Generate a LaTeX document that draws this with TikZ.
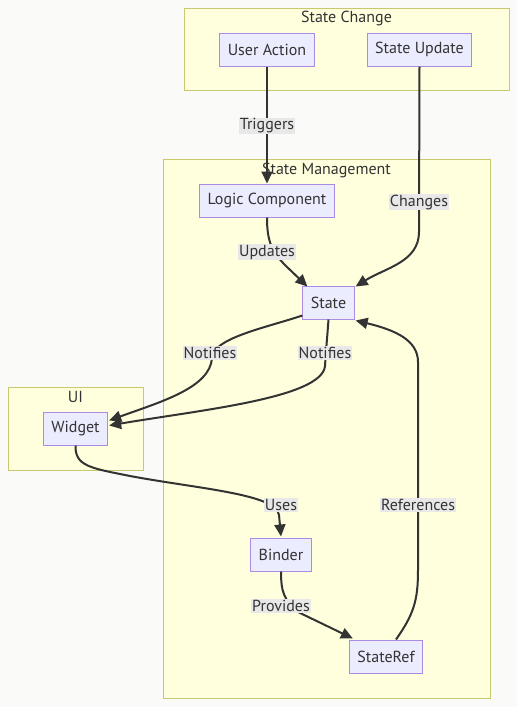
\documentclass[tikz,border=0pt]{standalone}
\usepackage{fontspec}
\setmainfont{PT Sans}
\usetikzlibrary{arrows.meta,calc}
\definecolor{canvas}{RGB}{250,250,248}
\definecolor{grpfill}{RGB}{255,255,222}
\definecolor{grpline}{RGB}{200,200,110}
\definecolor{boxfill}{RGB}{236,236,255}
\definecolor{boxline}{RGB}{170,140,230}
\definecolor{txt}{RGB}{51,51,51}
\definecolor{lblfill}{RGB}{232,232,232}
\tikzset{
  grp/.style={draw=grpline,fill=grpfill,line width=1pt},
  grptitle/.style={text=txt,font=\fontsize{16}{19}\selectfont,inner sep=0pt},
  box/.style={draw=boxline,fill=boxfill,line width=1pt,text=txt,font=\fontsize{16}{19}\selectfont,inner xsep=8pt,inner ysep=0pt,minimum height=33pt},
  elabel/.style={fill=lblfill,text=txt,font=\fontsize{16}{19}\selectfont,inner xsep=1pt,inner ysep=1pt},
  flow/.style={-{Triangle[length=12pt,width=11pt]},draw=txt,line width=2pt},
}
\begin{document}
\begin{tikzpicture}[x=1pt,y=-1pt]
\fill[canvas] (0,0) rectangle (517,707);
\useasboundingbox (0,0) rectangle (517,707);
% groups
\node[grp,minimum width=325pt,minimum height=82pt] (gchange) at (346.5,49) {};
\node[grptitle] (tchange) at (346.5,18) {State Change};
\node[grp,minimum width=327pt,minimum height=539pt] (gmgmt) at (326.5,428.5) {};
\node[grptitle] (tmgmt) at (326.5,170) {State Management};
\node[grp,minimum width=135pt,minimum height=83pt] (gui) at (75.5,428.5) {};
\node[grptitle] (tui) at (75.5,397) {UI};
% nodes
\node[box] (act) at (267,49.5) {User Action};
\node[box] (upd) at (419.5,49.5) {State Update};
\node[box] (logic) at (267,200.5) {Logic Component};
\node[box] (state) at (328.5,302.5) {State};
\node[box] (widget) at (75.5,428.5) {Widget};
\node[box] (binder) at (281,554.5) {Binder};
\node[box] (sref) at (386,656.5) {StateRef};
% edges
\draw[flow] (act) -- (logic);
\draw[flow] (upd.south) -- (419,232) .. controls (419,262) and (385,268) .. ($(state.north east)+(1,1)$);
\draw[flow] (logic.south) .. controls (267,242) and (272,252) .. (286,266) -- ($(state.north west)+(5,1)$);
\draw[flow] ($(state.south west)+(0,-4)$) .. controls (265,328) and (213,338) .. (212,358)
  .. controls (210,388) and (160,402) .. ($(widget.east)+(1,-8)$);
\draw[flow] (state.south) .. controls (327,340) and (326,350) .. (325,366)
  .. controls (322,398) and (200,410) .. ($(widget.east)+(1,-3)$);
\draw[flow] (widget.south) .. controls (75,466) and (90,468) .. (130,476)
  .. controls (200,489) and (276,494) .. (279,515) -- ($(binder.north)+(0,-1)$);
\draw[flow] (binder.south) .. controls (281,592) and (284,600) .. (298,612) -- ($(sref.north west)+(4,-1)$);
\draw[flow] ($(sref.north)+(10,0)$) .. controls (414,614) and (418,600) .. (418,570) -- (418,362)
  .. controls (418,340) and (395,330) .. ($(state.south east)+(1,1)$);
% labels
\node[elabel] (ltrig) at (267,126) {Triggers};
\node[elabel] (lchg) at (419,202) {Changes};
\node[elabel] (lupd) at (267,252) {Updates};
\node[elabel] (lnot1) at (210,353) {Notifies};
\node[elabel] (lnot2) at (325,353) {Notifies};
\node[elabel] (luses) at (281,505) {Uses};
\node[elabel] (lref) at (418,505) {References};
\node[elabel] (lprov) at (281,606) {Provides};
\end{tikzpicture}
\end{document}
